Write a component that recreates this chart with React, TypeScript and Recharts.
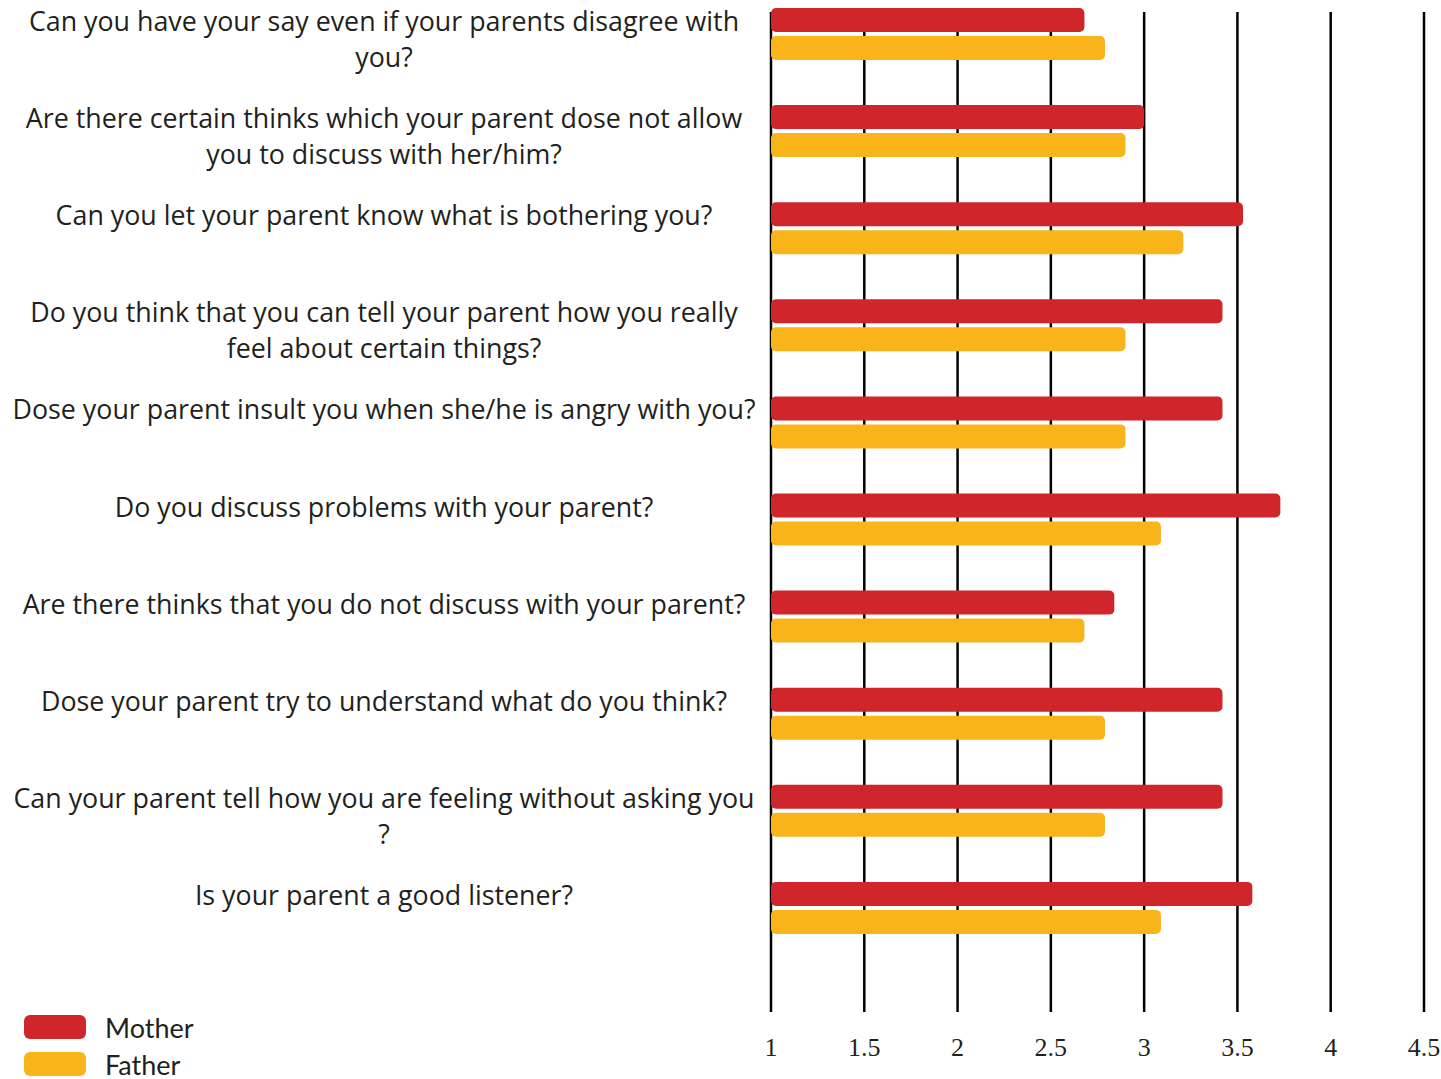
import React from 'react';
import { BarChart, Bar, XAxis, YAxis, CartesianGrid } from 'recharts';

const questions = [
  'Can you have your say even if your parents disagree with\nyou?',
  'Are there certain thinks which your parent dose not allow\nyou to discuss with her/him?',
  'Can you let your parent know what is bothering you?',
  'Do you think that you can tell your parent how you really\nfeel about certain things?',
  'Dose your parent insult you when she/he is angry with you?',
  'Do you discuss problems with your parent?',
  'Are there thinks that you do not discuss with your parent?',
  'Dose your parent try to understand what do you think?',
  'Can your parent tell how you are feeling without asking you\n?',
  'Is your parent a good listener?',
];
const motherScores = [2.68, 3.0, 3.53, 3.42, 3.42, 3.73, 2.84, 3.42, 3.42, 3.58];
const fatherScores = [2.79, 2.9, 3.21, 2.9, 2.9, 3.09, 2.68, 2.79, 2.79, 3.09];
const xTicks = [1, 1.5, 2, 2.5, 3, 3.5, 4, 4.5];

const RED = '#d1252c';
const YELLOW = '#f9b419';
const TEXT = '#231f20';
const LABEL_FONT = '"Open Sans", Lato, sans-serif';

const data = questions.map((q, i) => ({
  q,
  mother: motherScores[i],
  father: fatherScores[i],
}));

// multi-line question labels, first line lines up with the Mother bar
const QuestionTick = (props: any) => {
  const { y, payload } = props;
  const lines = String(payload.value).split('\n');
  return (
    <g>
      {lines.map((line, i) => (
        <text
          key={i}
          x={384}
          y={y - 13 + i * 36}
          textAnchor="middle"
          dominantBaseline="central"
          fontFamily={LABEL_FONT}
          fontSize={26.8}
          fill={TEXT}
        >
          {line}
        </text>
      ))}
    </g>
  );
};

const ScoreTick = (props: any) => {
  const { x, payload } = props;
  return (
    <text
      x={x}
      y={1047}
      textAnchor="middle"
      dominantBaseline="central"
      fontFamily='"Liberation Serif", "Times New Roman", serif'
      fontSize={26}
      fill={TEXT}
    >
      {payload.value}
    </text>
  );
};

const legendItems = [
  { name: 'Mother', color: RED },
  { name: 'Father', color: YELLOW },
];

const App: React.FC = () => {
  return (
    <div style={{ position: 'absolute', left: 0, top: 0, width: 1441, height: 1079, background: '#fff' }}>
      <BarChart
        width={1441}
        height={1079}
        data={data}
        layout="vertical"
        margin={{ top: -15, right: 17, bottom: 93, left: 0 }}
        barSize={24}
        barGap={4}
      >
        <CartesianGrid
          horizontal={false}
          vertical
          stroke="#000"
          strokeWidth={2.5}
          strokeOpacity={1}
          y={12}
          height={1000}
        />
        <XAxis
          type="number"
          domain={[1, 4.5]}
          ticks={xTicks}
          axisLine={false}
          tickLine={false}
          tick={<ScoreTick />}
          interval={0}
        />
        <YAxis
          type="category"
          dataKey="q"
          width={771}
          axisLine={false}
          tickLine={false}
          tick={<QuestionTick />}
          interval={0}
        />
        <Bar dataKey="mother" name="Mother" fill={RED} radius={5} isAnimationActive={false} />
        <Bar dataKey="father" name="Father" fill={YELLOW} radius={5} isAnimationActive={false} />
      </BarChart>
      <div style={{ position: 'absolute', left: 24, top: 1015 }}>
        {legendItems.map((item) => (
          <div key={item.name} style={{ display: 'flex', alignItems: 'center', height: 24, marginBottom: 13 }}>
            <div style={{ width: 62, height: 24, borderRadius: 6, background: item.color }} />
            <span style={{ marginLeft: 19, fontFamily: 'Lato, sans-serif', fontSize: 27, color: TEXT }}>{item.name}</span>
          </div>
        ))}
      </div>
    </div>
  );
};

export default App;
